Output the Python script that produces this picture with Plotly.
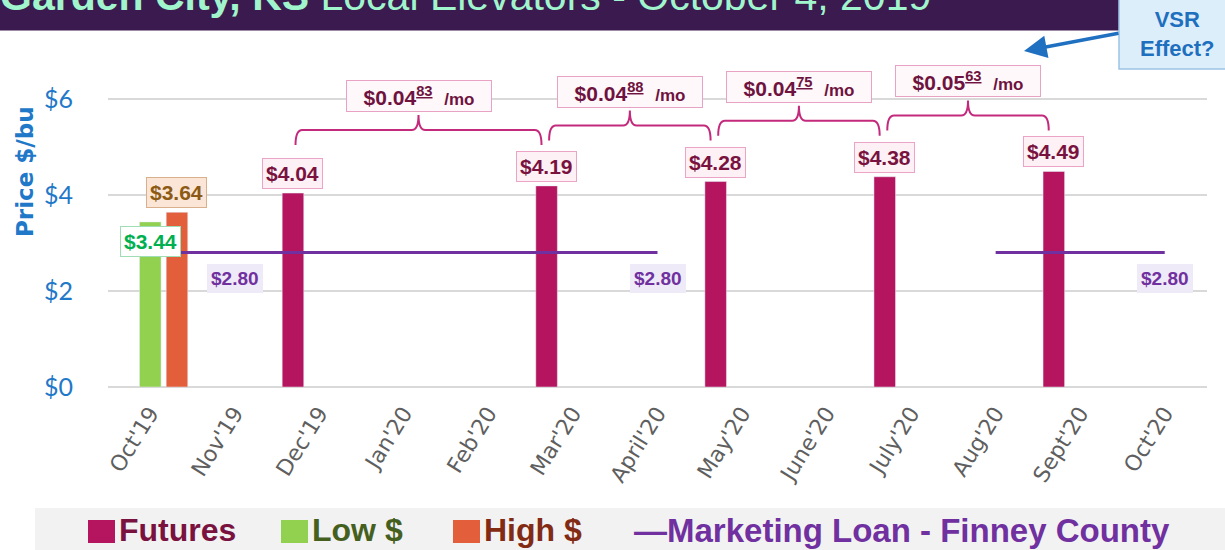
import plotly.graph_objects as go

# ---------------- data ----------------
months = ["Oct'19", "Nov'19", "Dec'19", "Jan'20", "Feb'20", "Mar'20", "April'20",
          "May'20", "June'20", "July'20", "Aug'20", "Sept'20", "Oct'20"]

futures_months = ["Dec'19", "Mar'20", "May'20", "July'20", "Sept'20"]
futures = [4.04, 4.19, 4.28, 4.38, 4.49]

low_months = ["Oct'19"]
low = [3.44]
high_months = ["Oct'19"]
high = [3.64]

loan = [2.80, 2.80, 2.80, 2.80, 2.80, 2.80, 2.80, None, None, None, 2.80, 2.80, 2.80]
loan_label_months = ["Nov'19", "April'20", "Oct'20"]

spread_per_month = [0.0483, 0.0488, 0.0475, 0.0563]

y_ticks = [0, 2, 4, 6]

# ---------------- look ----------------
C_FUT = "#B5145F"
C_LOW = "#92D050"
C_HIGH = "#E35F3B"
C_LOAN = "#7030A0"
C_BRACE = "#C42A7C"
C_BLUE = "#1F78C8"

L, R, T, B = 108, 1207, 75, 387          # plot area in pixels
Y_MAX = 6.5
PX_PER_UNIT = (B - T) / Y_MAX

OFF_FUT, OFF_LOW, OFF_HIGH, BAR_W = -0.312, 0.0, 0.316, 0.255


def px_x(px):
    return (px - L) / (R - L)


def px_y(py):
    return (B - py) / (B - T)


def idx(m):
    return months.index(m)


x_fut = [idx(m) + OFF_FUT for m in futures_months]
x_low = [idx(m) + OFF_LOW for m in low_months]
x_high = [idx(m) + OFF_HIGH for m in high_months]

fig = go.Figure()

fig.add_trace(go.Bar(x=x_fut, y=futures, width=BAR_W, marker_color=C_FUT,
                     name="Futures", showlegend=False))
fig.add_trace(go.Bar(x=x_low, y=low, width=BAR_W, marker_color=C_LOW,
                     name="Low $", showlegend=False))
fig.add_trace(go.Bar(x=x_high, y=high, width=BAR_W, marker_color=C_HIGH,
                     name="High $", showlegend=False))
fig.add_trace(go.Scatter(x=list(range(len(months))), y=loan, mode="lines",
                         line=dict(color=C_LOAN, width=3), connectgaps=False,
                         name="Marketing Loan - Finney County", showlegend=False))

shapes = []
annotations = []

LBL_FONT = "Liberation Sans, Arial, sans-serif"

# value labels on futures bars
for x, v in zip(x_fut, futures):
    annotations.append(dict(
        x=x, y=v, xref="x", yref="y", yanchor="bottom", yshift=4,
        text=f"<b>${v:.2f}</b>", showarrow=False,
        font=dict(family=LBL_FONT, size=21, color="#7A1240"),
        bgcolor="#FDF1F6", bordercolor="#EBA3C6", borderwidth=1, borderpad=3))

# low / high labels
for x, v in zip(x_low, low):
    annotations.append(dict(
        x=x, y=v, xref="x", yref="y", yanchor="top", yshift=-4,
        text=f"<b>${v:.2f}</b>", showarrow=False,
        font=dict(family=LBL_FONT, size=21, color="#00B050"),
        bgcolor="#FFFFFF", bordercolor="#9FDDB5", borderwidth=1, borderpad=3))
for x, v in zip(x_high, high):
    annotations.append(dict(
        x=x, y=v, xref="x", yref="y", yanchor="bottom", yshift=4,
        text=f"<b>${v:.2f}</b>", showarrow=False,
        font=dict(family=LBL_FONT, size=21, color="#8C5A14"),
        bgcolor="#FBE5D6", bordercolor="#D9B08C", borderwidth=1, borderpad=3))

# marketing loan labels
for m in loan_label_months:
    v = loan[idx(m)]
    annotations.append(dict(
        x=idx(m), y=v, xref="x", yref="y", yshift=-26,
        text=f"<b>${v:.2f}</b>", showarrow=False,
        font=dict(family=LBL_FONT, size=19, color=C_LOAN),
        bgcolor="#EEEAF7", borderwidth=0, borderpad=4))

# braces between consecutive futures and the monthly spread
rx = 0.08
for i, rate in enumerate(spread_per_month):
    xl = x_fut[i] + 0.03
    xr = x_fut[i + 1] - 0.06
    xm = (xl + xr) / 2
    v = futures[i + 1]
    yb = v + 41 / PX_PER_UNIT
    yh = v + 56 / PX_PER_UNIT
    yt = v + 71 / PX_PER_UNIT
    path = (f"M {xl},{yb} Q {xl},{yh} {xl + rx},{yh} L {xm - rx},{yh} "
            f"Q {xm},{yh} {xm},{yt} Q {xm},{yh} {xm + rx},{yh} "
            f"L {xr - rx},{yh} Q {xr},{yh} {xr},{yb}")
    shapes.append(dict(type="path", path=path, xref="x", yref="y",
                       line=dict(color=C_BRACE, width=2)))
    s = f"{rate:.4f}"
    annotations.append(dict(
        x=xm, y=yt, xref="x", yref="y", yanchor="bottom", yshift=3,
        text=f"<b>${s[:-2]}<sup><u>{s[-2:]}</u></sup>  <span style='font-size:17px'>/mo</span></b>",
        showarrow=False, width=140,
        font=dict(family=LBL_FONT, size=21, color="#6E1340"),
        bgcolor="#FFF8FA", bordercolor="#E8A2C4", borderwidth=1, borderpad=2))

# title band
shapes.append(dict(type="rect", xref="paper", yref="paper",
                   x0=px_x(-5), x1=px_x(1119), y0=px_y(30.5), y1=px_y(-5),
                   fillcolor="#3A1A4F", line=dict(width=0), layer="above"))
annotations.append(dict(
    xref="paper", yref="paper", x=px_x(-2), y=px_y(-4), xanchor="left", yanchor="middle",
    text="<b>Garden City, KS</b> Local Elevators - October 4, 2019", showarrow=False,
    font=dict(family=LBL_FONT, size=41, color="#A0F5CC")))

# VSR box and arrow
shapes.append(dict(type="rect", xref="paper", yref="paper",
                   x0=px_x(1119), x1=px_x(1232), y0=px_y(69), y1=px_y(-5),
                   fillcolor="#DDEEFB", line=dict(color="#9DC3E6", width=1.5),
                   layer="above"))
annotations.append(dict(
    xref="paper", yref="paper", x=px_x(1177), y=px_y(34), xanchor="center",
    yanchor="middle", text="<b>VSR<br>Effect?</b>", showarrow=False,
    font=dict(family=LBL_FONT, size=22, color="#1F6FBF")))
annotations.append(dict(
    xref="paper", yref="paper", x=px_x(1024), y=px_y(51), text="", showarrow=True,
    ax=96, ay=-18, axref="pixel", ayref="pixel", arrowhead=2, arrowsize=1.3,
    arrowwidth=3.5, arrowcolor="#1F70C0", standoff=0))

# y axis title
annotations.append(dict(
    xref="paper", yref="paper", x=px_x(25), y=px_y(172), textangle=-90,
    xanchor="center", yanchor="middle",
    text="<b>Price $/bu</b>", showarrow=False,
    font=dict(family="DejaVu Sans, sans-serif", size=23, color=C_BLUE)))

# custom legend
shapes.append(dict(type="rect", xref="paper", yref="paper",
                   x0=px_x(35), x1=px_x(1232), y0=px_y(556), y1=px_y(508),
                   fillcolor="#F2F2F2", line=dict(width=0), layer="below"))
LEG_FONT = "Liberation Sans, Arial, sans-serif"
legend_items = [
    ("Futures", C_FUT, "#7A1240", 88),
    ("Low $", C_LOW, "#45601E", 281),
    ("High $", C_HIGH, "#832A14", 453),
]
for name, sq, tc, x0 in legend_items:
    shapes.append(dict(type="rect", xref="paper", yref="paper",
                       x0=px_x(x0), x1=px_x(x0 + 27), y0=px_y(543), y1=px_y(520),
                       fillcolor=sq, line=dict(width=0)))
    annotations.append(dict(
        xref="paper", yref="paper", x=px_x(x0 + 29), y=px_y(530), xanchor="left",
        yanchor="middle", text=f"<b>{name}</b>", showarrow=False,
        font=dict(family=LEG_FONT, size=32, color=tc)))
annotations.append(dict(
    xref="paper", yref="paper", x=px_x(632), y=px_y(530), xanchor="left",
    yanchor="middle", text="<b>—Marketing Loan - Finney County</b>", showarrow=False,
    font=dict(family=LEG_FONT, size=33, color=C_LOAN)))

fig.update_layout(
    width=1225, height=550,
    margin=dict(l=L, r=1225 - R, t=T, b=550 - B),
    paper_bgcolor="white", plot_bgcolor="white",
    barmode="overlay", showlegend=False,
    shapes=shapes, annotations=annotations,
    xaxis=dict(
        range=[-0.5, len(months) - 0.5], tickmode="array",
        tickvals=list(range(len(months))), ticktext=months,
        tickangle=-58, showgrid=False, zeroline=False, showline=False,
        ticks="", ticklabelstandoff=8,
        tickfont=dict(family="DejaVu Sans, sans-serif", size=22, color="#5F5F5F")),
    yaxis=dict(
        range=[0, Y_MAX], tickmode="array", tickvals=y_ticks,
        ticktext=[f"${t}" for t in y_ticks],
        showgrid=True, gridcolor="#D9D9D9", gridwidth=1.5,
        zeroline=True, zerolinecolor="#D9D9D9", zerolinewidth=2,
        showline=False, ticks="", ticklabelstandoff=34,
        tickfont=dict(family="Lato, sans-serif", size=25, color=C_BLUE)),
)

fig.write_html("out.html", config={"displayModeBar": False},
               post_script="document.body.style.margin='0';")
